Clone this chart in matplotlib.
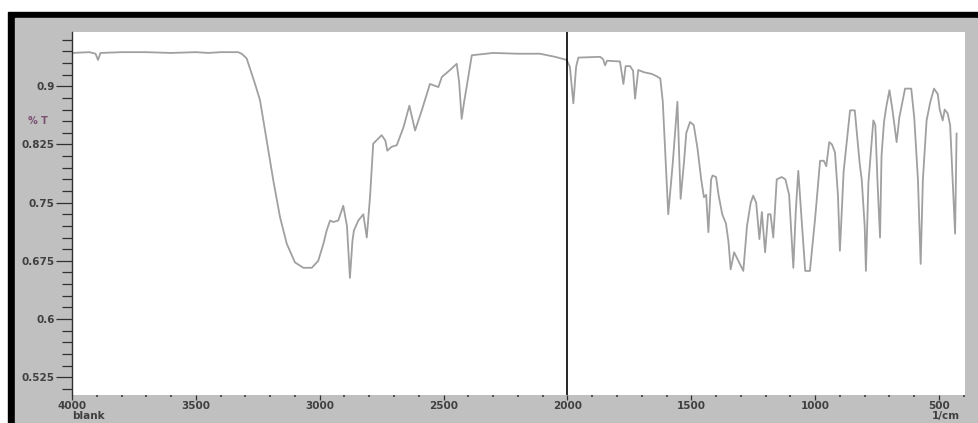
import numpy as np
import matplotlib
matplotlib.use("Agg")
import matplotlib.pyplot as plt
from matplotlib.patches import Rectangle
from matplotlib.ticker import MultipleLocator, FixedLocator

# IR spectrum, wavenumber (1/cm) vs transmittance
wavenumber = [
    4000, 3930, 3905, 3895, 3885, 3800, 3700, 3600, 3500, 3450, 3400, 3330,
    3315, 3295, 3261, 3241, 3214, 3187, 3160, 3133, 3100, 3066, 3032, 3006,
    2985, 2972, 2958, 2945, 2925, 2905, 2890, 2878, 2868, 2862, 2844, 2824,
    2810, 2797, 2784, 2750, 2735, 2727, 2710, 2689, 2662, 2638, 2615, 2588,
    2555, 2521, 2507, 2474, 2447, 2437, 2427, 2417, 2407, 2386, 2300, 2200,
    2111, 2050, 2003, 1990, 1976, 1965, 1956, 1868, 1856, 1848, 1840, 1788,
    1774, 1765, 1747, 1735, 1727, 1714, 1690, 1660, 1640, 1625, 1615, 1593,
    1575, 1556, 1543, 1530, 1520, 1505, 1490, 1475, 1460, 1449, 1440, 1431,
    1420, 1414, 1400, 1390, 1375, 1360, 1350, 1341, 1327, 1310, 1290, 1275,
    1260, 1250, 1238, 1225, 1215, 1202, 1190, 1180, 1169, 1155, 1135, 1120,
    1105, 1088, 1078, 1068, 1055, 1040, 1021, 1000, 980, 965, 955, 943,
    932, 920, 908, 900, 885, 859, 840, 820, 812, 800, 795, 785,
    765, 757, 748, 738, 732, 722, 712, 700, 688, 671, 660, 637,
    612, 600, 585, 574, 565, 550, 535, 520, 505, 497, 485, 477,
    465, 455, 445, 435, 429,
]
transmittance = [
    .943, .944, .942, .934, .943, .944, .944, .943, .944, .943, .944, .944,
    .942, .936, .903, .882, .830, .778, .731, .697, .673, .666, .666, .675,
    .697, .714, .727, .725, .727, .746, .720, .653, .700, .714, .727, .735,
    .705, .757, .826, .837, .830, .817, .822, .824, .847, .875, .843, .869,
    .903, .899, .912, .921, .929, .905, .858, .880, .899, .940, .943, .942,
    .942, .938, .934, .925, .878, .925, .937, .938, .935, .927, .933, .932,
    .903, .926, .926, .920, .884, .921, .918, .916, .913, .910, .880, .735,
    .800, .880, .755, .800, .840, .854, .850, .820, .780, .757, .760, .712,
    .780, .785, .783, .760, .735, .723, .700, .664, .686, .675, .662, .720,
    .750, .759, .750, .703, .738, .686, .735, .735, .705, .780, .783, .780,
    .760, .666, .740, .791, .730, .662, .662, .730, .804, .804, .797, .828,
    .825, .815, .760, .688, .790, .869, .869, .800, .780, .720, .662, .775,
    .856, .850, .775, .705, .810, .854, .875, .895, .870, .828, .860, .897,
    .897, .860, .780, .671, .780, .856, .880, .897, .890, .870, .856, .870,
    .865, .850, .780, .710, .839,
]

y_major = [0.525, 0.6, 0.675, 0.75, 0.825, 0.9]
x_major = [4000, 3500, 3000, 2500, 2000, 1500, 1000, 500]

W, H = 979, 423
plt.rcParams["font.family"] = ["DejaVu Sans"]
plt.rcParams["font.weight"] = "bold"
fig = plt.figure(figsize=(W / 100, H / 100), dpi=100, facecolor="white")

# window frame: black edge and grey panel, kept behind the axes
fig.patches.append(Rectangle((8 / W, 0), 1 - 8 / W, 1 - 12 / H,
                             transform=fig.transFigure, color="black", zorder=-3))
fig.patches.append(Rectangle((15 / W, 1 / H), (977 - 15) / W, (422 - 18) / H,
                             transform=fig.transFigure, color="#c0c0c0", zorder=-2))

ax = fig.add_axes([72 / W, (H - 395) / H, (965 - 72) / W, (395 - 32) / H])
ax.set_facecolor("white")
ax.plot(wavenumber, transmittance, color="#a0a0a0", lw=1.3)
ax.axvline(2000, color="black", lw=1.2)

ax.set_xlim(4000, 395)
ax.set_ylim(0.502, 0.97)

for s in ("top", "right", "bottom"):
    ax.spines[s].set_visible(False)
ax.spines["left"].set_color("#303030")
ax.spines["left"].set_linewidth(1.0)

lab = dict(labelsize=7.5, labelcolor="#404040")
ax.yaxis.set_major_locator(FixedLocator(y_major))
ax.yaxis.set_minor_locator(MultipleLocator(0.015))
ax.set_yticklabels([f"{v:g}" for v in y_major])
ax.tick_params(axis="y", which="major", length=11.5, width=0.9, color="#303030",
               pad=1, **lab)
ax.tick_params(axis="y", which="minor", length=7, width=0.9, color="#303030")

ax.xaxis.set_major_locator(FixedLocator(x_major))
ax.xaxis.set_minor_locator(MultipleLocator(100))
ax.set_xticklabels([str(v) for v in x_major])
ax.tick_params(axis="x", which="major", length=3.5, width=0.9, color="#303030",
               pad=0.5, **lab)
ax.tick_params(axis="x", which="minor", length=1.5, width=1.2, color="#404040")

ax.text(-0.038, 0.855, "% T", transform=ax.get_yaxis_transform(),
        ha="center", va="center", fontsize=7, color="#7a5070")
ax.text(4000, -0.043, "blank", transform=ax.get_xaxis_transform(),
        ha="left", va="top", fontsize=7.5, color="#404040")
ax.text(528, -0.043, "1/cm", transform=ax.get_xaxis_transform(),
        ha="left", va="top", fontsize=7.5, color="#404040")

fig.savefig("out.png", dpi=100, facecolor=fig.get_facecolor())
